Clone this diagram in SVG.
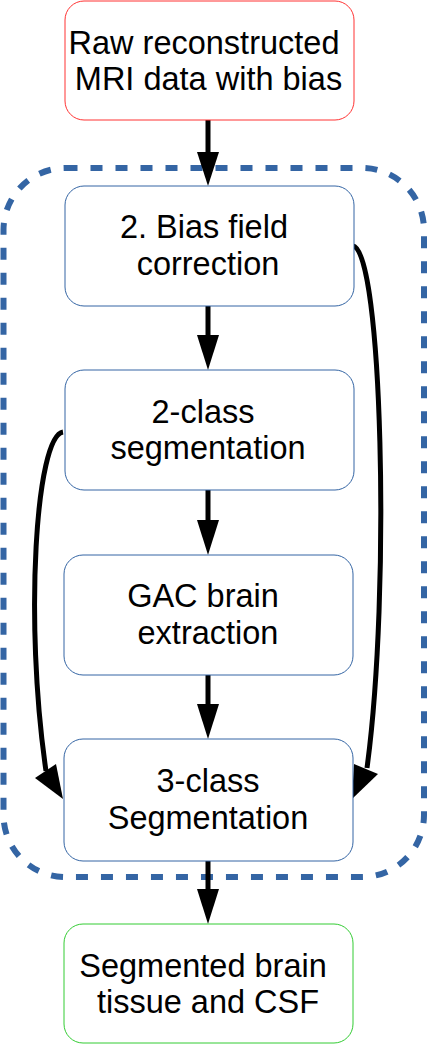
<svg xmlns="http://www.w3.org/2000/svg" width="428" height="1045" viewBox="0 0 428 1045">
<style>
.box{fill:#ffffff;stroke:#3465a4;stroke-width:1}
.lbl{font-family:"Liberation Sans",Arial,sans-serif;font-size:32.5px;fill:#000000;text-anchor:middle}
.ln{fill:none;stroke:#000000;stroke-width:5}
.ah{fill:#000000;stroke:none}
</style>
<rect width="428" height="1045" fill="#ffffff"/>
<g id="container">
<rect x="3.5" y="168" width="420.5" height="709" rx="62" ry="62" fill="none" stroke="#3465a4" stroke-width="6" stroke-dasharray="12,13"/>
</g>
<g id="connectors">
<line class="ln" x1="208" y1="120" x2="208" y2="155"/>
<polygon class="ah" points="197,152 219,152 208,186"/>
<line class="ln" x1="208" y1="306" x2="208" y2="338"/>
<polygon class="ah" points="197,335 219,335 208,370"/>
<line class="ln" x1="208" y1="490" x2="208" y2="523"/>
<polygon class="ah" points="197,520 219,520 208,555"/>
<line class="ln" x1="208" y1="675" x2="208" y2="707"/>
<polygon class="ah" points="197,704 219,704 208,739"/>
<line class="ln" x1="208" y1="861" x2="208" y2="892"/>
<polygon class="ah" points="197,889 219,889 208,924"/>
<path class="ln" d="M353,246 C382,250 391,590 367,768"/>
<polygon class="ah" points="354,764 378,774 352,799"/>
<path class="ln" d="M63,432 C36,436 24,620 46,771"/>
<polygon class="ah" points="35,778 56,764 63,799"/>
</g>
<g id="n1">
<rect x="65" y="1" width="289" height="119" rx="19" ry="19" fill="#ffffff" stroke="#ff3333" stroke-width="1"/>
<text class="lbl" x="204" y="54">Raw reconstructed</text>
<text class="lbl" x="208.5" y="90">MRI data with bias</text>
</g>
<g id="n2">
<rect class="box" x="65" y="186" width="289" height="120" rx="19" ry="19"/>
<text class="lbl" x="204" y="238">2. Bias field</text>
<text class="lbl" x="208" y="275">correction</text>
</g>
<g id="n3">
<rect class="box" x="65" y="370" width="289" height="120" rx="19" ry="19"/>
<text class="lbl" x="203" y="423">2-class</text>
<text class="lbl" x="208" y="459">segmentation</text>
</g>
<g id="n4">
<rect class="box" x="64" y="555" width="289" height="120" rx="19" ry="19"/>
<text class="lbl" x="203" y="607">GAC brain</text>
<text class="lbl" x="208" y="644">extraction</text>
</g>
<g id="n5">
<rect class="box" x="64" y="739" width="289" height="122" rx="19" ry="19"/>
<text class="lbl" x="208" y="792">3-class</text>
<text class="lbl" x="208" y="829">Segmentation</text>
</g>
<g id="n6">
<rect x="64" y="924" width="289" height="119" rx="19" ry="19" fill="#ffffff" stroke="#33cc33" stroke-width="1"/>
<text class="lbl" x="203" y="977">Segmented brain</text>
<text class="lbl" x="208" y="1013">tissue and CSF</text>
</g>
</svg>
